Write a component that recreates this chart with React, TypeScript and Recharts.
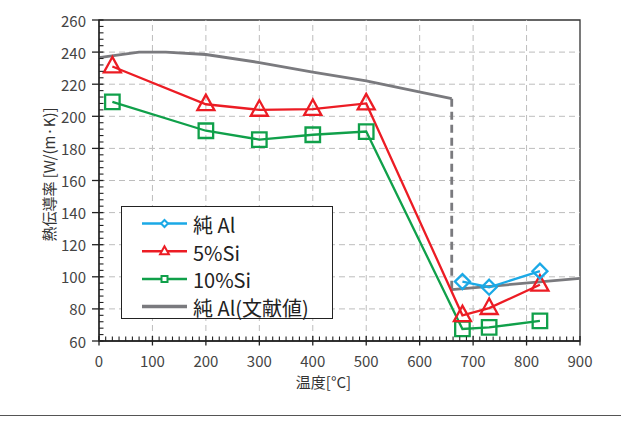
import React from 'react';
import { LineChart, Line, XAxis, YAxis, ReferenceLine, ReferenceArea, Legend } from 'recharts';

// ---- data ----
const alloyTemps = [25, 200, 300, 400, 500, 680, 730, 825];
const si5 = [231, 207.5, 204, 204.5, 208, 76, 80.5, 95];
const si10 = [209, 191, 185.5, 188.5, 190.5, 67.5, 68.5, 72.5];
const pureAlTemps = [680, 730, 825];
const pureAl = [97, 93.5, 103.5];
const litSolidTemps = [0, 75, 125, 200, 300, 400, 500, 660];
const litSolid = [236.5, 240, 240, 238.5, 233.5, 227.5, 222, 211];
const litMeltTemps = [660, 660];
const litMelt = [211, 92];
const litLiquidTemps = [660, 900];
const litLiquid = [92, 99];

const xMajorTicks = [0, 100, 200, 300, 400, 500, 600, 700, 800, 900];
const yMajorTicks = [60, 80, 100, 120, 140, 160, 180, 200, 220, 240, 260];
const xAllTicks = Array.from({ length: 73 }, (_, i) => i * 12.5);
const yAllTicks = Array.from({ length: 51 }, (_, i) => 60 + i * 4);

const seriesNames = ['純 Al', '5%Si', '10%Si', '純 Al(文献値)'];
const xTitle = '温度[°C]';
const yTitle = '熱伝導率 [W/(m·K)]';

const C_BLUE = '#1ba9e6';
const C_RED = '#ec1c24';
const C_GREEN = '#10a04a';
const C_GRAY = '#7a7a7e';
const FONT = "'Noto Sans CJK JP', 'Noto Sans', sans-serif";

const toPts = (xs: number[], ys: number[]) => xs.map((x, i) => ({ x, y: ys[i] }));
const si5Data = toPts(alloyTemps, si5);
const si10Data = toPts(alloyTemps, si10);
const pureAlData = toPts(pureAlTemps, pureAl);
const litSolidData = toPts(litSolidTemps, litSolid);
const litMeltData = toPts(litMeltTemps, litMelt);
const litLiquidData = toPts(litLiquidTemps, litLiquid);

// ---- marker shapes ----
const tri = (cx: number, cy: number, s: number) =>
  `M${cx},${cy - s * 0.62} L${cx - s * 0.55},${cy + s * 0.38} L${cx + s * 0.55},${cy + s * 0.38} Z`;
const sq = (cx: number, cy: number, s: number) =>
  `M${cx - s / 2},${cy - s / 2} h${s} v${s} h${-s} Z`;
const dia = (cx: number, cy: number, s: number) =>
  `M${cx},${cy - s / 2} L${cx + s / 2},${cy} L${cx},${cy + s / 2} L${cx - s / 2},${cy} Z`;

const makeDot = (shape: (cx: number, cy: number, s: number) => string, color: string, size: number) =>
  (p: any) => {
    if (p.cx == null || p.cy == null) return <g key={`d-${p.index}`} />;
    return (
      <path key={`d-${p.index}`} d={shape(p.cx, p.cy, size)} fill="none" stroke={color} strokeWidth={2.3} strokeLinejoin="miter" />
    );
  };

// ---- ticks ----
const XTick = (props: any) => {
  const { x, y, payload } = props;
  const v = payload.value;
  const major = xMajorTicks.includes(v);
  return (
    <g>
      {major ? (
        <line x1={x} x2={x} y1={y - 5} y2={y + 4.5} stroke="#222" strokeWidth={1.3} />
      ) : (
        <line x1={x} x2={x} y1={y} y2={y - 4.5} stroke="#222" strokeWidth={1.1} />
      )}
      {major && (
        <text x={x} y={y + 19} textAnchor="middle" dominantBaseline="central" fontSize={15} fill="#444" fontFamily={FONT}>
          {v}
        </text>
      )}
    </g>
  );
};

const YTick = (props: any) => {
  const { x, y, payload } = props;
  const v = payload.value;
  const major = yMajorTicks.includes(v);
  return (
    <g>
      {major ? (
        <line x1={x - 7} x2={x + 4.5} y1={y} y2={y} stroke="#222" strokeWidth={1.3} />
      ) : (
        <line x1={x} x2={x + 4.5} y1={y} y2={y} stroke="#222" strokeWidth={1.1} />
      )}
      {major && (
        <text x={x - 13} y={y} textAnchor="end" dominantBaseline="central" fontSize={15} fill="#444" fontFamily={FONT}>
          {v}
        </text>
      )}
    </g>
  );
};

const YTitle = (props: any) => {
  const vb = props.viewBox || { x: 39, y: 20, width: 60, height: 321 };
  const cx = vb.x + 9.5;
  const cy = vb.y + vb.height / 2 - 6;
  return (
    <text x={cx} y={cy} transform={`rotate(-90 ${cx} ${cy})`} textAnchor="middle" dominantBaseline="central" fontSize={15} fill="#333" fontFamily={FONT}>
      {yTitle}
    </text>
  );
};

const XTitle = (props: any) => {
  const vb = props.viewBox || { x: 99, y: 341, width: 481, height: 30 };
  const cx = vb.x + vb.width / 2 - 16;
  const cy = vb.y + 40.5;
  return (
    <text x={cx} y={cy} textAnchor="middle" dominantBaseline="central" fontSize={15} fill="#333" fontFamily={FONT}>
      {xTitle}
    </text>
  );
};

// ---- legend ----
const legendColors = [C_BLUE, C_RED, C_GREEN, C_GRAY];
const legendShapes = [dia, tri, sq, null];
const legendSizes = [7, 8, 6, 0];

const LegendBox = () => (
  <div style={{ width: 212, height: 113, border: '1px solid #222', boxSizing: 'border-box', background: '#fff' }}>
    <svg width={210} height={111} style={{ display: 'block', overflow: 'visible' }}>
      {seriesNames.map((name, i) => {
        const cy = 16.5 + i * 27.7;
        const shape = legendShapes[i];
        return (
          <g key={name}>
            <line x1={20} x2={65} y1={cy} y2={cy} stroke={legendColors[i]} strokeWidth={i === 3 ? 3.5 : 2.5} />
            {shape && (
              <path d={shape(42.5, cy, legendSizes[i])} fill="#fff" stroke={legendColors[i]} strokeWidth={2} />
            )}
            <text x={71} y={cy + 1} dominantBaseline="central" fontSize={20} fill="#222" fontFamily={FONT}>
              {name}
            </text>
          </g>
        );
      })}
    </svg>
  </div>
);

export default function App() {
  return (
    <div style={{ position: 'absolute', left: 0, top: 0, width: 621, height: 424, background: '#fff' }}>
      <LineChart width={621} height={424} margin={{ top: 20, right: 41, bottom: 53, left: 39 }}>
        <XAxis
          type="number"
          dataKey="x"
          domain={[0, 900]}
          ticks={xAllTicks}
          interval={0}
          tick={XTick}
          tickLine={false}
          tickSize={0}
          tickMargin={0}
          height={30}
          axisLine={{ stroke: '#222', strokeWidth: 1.3 }}
          label={XTitle}
        />
        <YAxis
          type="number"
          dataKey="y"
          domain={[60, 260]}
          ticks={yAllTicks}
          interval={0}
          tick={YTick}
          tickLine={false}
          tickSize={0}
          tickMargin={0}
          width={60}
          axisLine={{ stroke: '#222', strokeWidth: 1.3 }}
          label={YTitle}
        />
        {xMajorTicks.slice(1, -1).map((v) => (
          <ReferenceLine key={`gx${v}`} x={v} stroke="#bdbdbd" strokeDasharray="6 4" strokeWidth={1} />
        ))}
        {yMajorTicks.slice(1, -1).map((v) => (
          <ReferenceLine key={`gy${v}`} y={v} stroke="#bdbdbd" strokeDasharray="6 4" strokeWidth={1} />
        ))}
        <ReferenceArea x1={0} x2={900} y1={60} y2={260} fill="none" stroke="#333" strokeWidth={1.3} />
        <Legend
          layout="vertical"
          align="center"
          verticalAlign="middle"
          content={() => <LegendBox />}
          wrapperStyle={{ position: 'absolute', left: 121, top: 206, width: 212, height: 113 }}
        />
        <Line data={litSolidData} dataKey="y" name={seriesNames[3]} stroke={C_GRAY} strokeWidth={2.8} dot={false} isAnimationActive={false} type="linear" />
        <Line data={litMeltData} dataKey="y" legendType="none" stroke={C_GRAY} strokeWidth={2.8} strokeDasharray="8 5" dot={false} isAnimationActive={false} type="linear" />
        <Line data={litLiquidData} dataKey="y" legendType="none" stroke={C_GRAY} strokeWidth={2.8} dot={false} isAnimationActive={false} type="linear" />
        <Line data={si10Data} dataKey="y" name={seriesNames[2]} stroke={C_GREEN} strokeWidth={2.3} dot={makeDot(sq, C_GREEN, 14.5)} activeDot={false} isAnimationActive={false} type="linear" />
        <Line data={si5Data} dataKey="y" name={seriesNames[1]} stroke={C_RED} strokeWidth={2.3} dot={makeDot(tri, C_RED, 15.5)} activeDot={false} isAnimationActive={false} type="linear" />
        <Line data={pureAlData} dataKey="y" name={seriesNames[0]} stroke={C_BLUE} strokeWidth={2.3} dot={makeDot(dia, C_BLUE, 15)} activeDot={false} isAnimationActive={false} type="linear" />
      </LineChart>
      <div style={{ position: 'absolute', left: 0, top: 415, width: 621, height: 1, background: '#555' }} />
    </div>
  );
}
